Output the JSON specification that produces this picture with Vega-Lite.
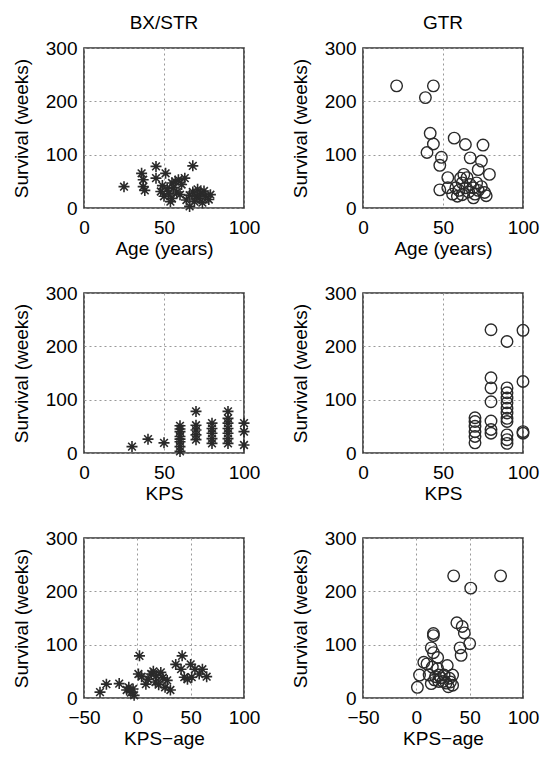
{
  "$schema": "https://vega.github.io/schema/vega-lite/v6.json",
  "padding": {"left": 11, "top": 13, "right": 5, "bottom": 5},
  "background": "white",
  "datasets": {
    "bx_age": [
      {"age": 25, "survival": 40}, {"age": 36, "survival": 65}, {"age": 37, "survival": 53}, {"age": 37, "survival": 40},
      {"age": 38, "survival": 33}, {"age": 45, "survival": 78}, {"age": 45, "survival": 56}, {"age": 48, "survival": 31},
      {"age": 51, "survival": 65}, {"age": 49, "survival": 42}, {"age": 50, "survival": 22}, {"age": 52, "survival": 36},
      {"age": 53, "survival": 27}, {"age": 55, "survival": 47}, {"age": 55, "survival": 18}, {"age": 56, "survival": 38},
      {"age": 57, "survival": 50}, {"age": 58, "survival": 30}, {"age": 59, "survival": 53}, {"age": 60, "survival": 25},
      {"age": 61, "survival": 44}, {"age": 63, "survival": 56}, {"age": 68, "survival": 79}, {"age": 64, "survival": 15},
      {"age": 66, "survival": 3}, {"age": 66, "survival": 24}, {"age": 68, "survival": 30}, {"age": 69, "survival": 12},
      {"age": 70, "survival": 22}, {"age": 71, "survival": 35}, {"age": 72, "survival": 18}, {"age": 73, "survival": 28},
      {"age": 74, "survival": 10}, {"age": 75, "survival": 32}, {"age": 76, "survival": 22}, {"age": 78, "survival": 16},
      {"age": 79, "survival": 25}, {"age": 54, "survival": 12}
    ],
    "gtr_age": [
      {"age": 21, "survival": 229}, {"age": 44, "survival": 229}, {"age": 39, "survival": 207}, {"age": 42, "survival": 140},
      {"age": 44, "survival": 120}, {"age": 40, "survival": 104}, {"age": 49, "survival": 95}, {"age": 48, "survival": 80},
      {"age": 57, "survival": 131}, {"age": 64, "survival": 119}, {"age": 67, "survival": 94}, {"age": 75, "survival": 118},
      {"age": 74, "survival": 88}, {"age": 72, "survival": 72}, {"age": 79, "survival": 63}, {"age": 53, "survival": 57},
      {"age": 63, "survival": 63}, {"age": 65, "survival": 57}, {"age": 48, "survival": 34}, {"age": 53, "survival": 38},
      {"age": 58, "survival": 38}, {"age": 59, "survival": 22}, {"age": 62, "survival": 25}, {"age": 64, "survival": 38},
      {"age": 69, "survival": 38}, {"age": 69, "survival": 19}, {"age": 71, "survival": 47}, {"age": 76, "survival": 29},
      {"age": 77, "survival": 23}, {"age": 62, "survival": 47}, {"age": 60, "survival": 33}, {"age": 66, "survival": 30},
      {"age": 67, "survival": 44}, {"age": 72, "survival": 33}, {"age": 74, "survival": 40}, {"age": 56, "survival": 26},
      {"age": 61, "survival": 56}, {"age": 70, "survival": 26}
    ],
    "bx_kps": [
      {"kps": 30, "survival": 12}, {"kps": 40, "survival": 26}, {"kps": 50, "survival": 19},
      {"kps": 60, "survival": 51}, {"kps": 60, "survival": 45}, {"kps": 60, "survival": 40}, {"kps": 60, "survival": 31},
      {"kps": 60, "survival": 26}, {"kps": 60, "survival": 21}, {"kps": 60, "survival": 12}, {"kps": 60, "survival": 3},
      {"kps": 70, "survival": 78}, {"kps": 70, "survival": 52}, {"kps": 70, "survival": 43}, {"kps": 70, "survival": 34},
      {"kps": 70, "survival": 25},
      {"kps": 80, "survival": 56}, {"kps": 80, "survival": 46}, {"kps": 80, "survival": 37}, {"kps": 80, "survival": 27},
      {"kps": 80, "survival": 18},
      {"kps": 90, "survival": 78}, {"kps": 90, "survival": 65}, {"kps": 90, "survival": 56}, {"kps": 90, "survival": 46},
      {"kps": 90, "survival": 37}, {"kps": 90, "survival": 27}, {"kps": 90, "survival": 18},
      {"kps": 100, "survival": 56}, {"kps": 100, "survival": 40}, {"kps": 100, "survival": 15}
    ],
    "gtr_kps": [
      {"kps": 70, "survival": 66}, {"kps": 70, "survival": 59}, {"kps": 70, "survival": 50}, {"kps": 70, "survival": 40},
      {"kps": 70, "survival": 31}, {"kps": 70, "survival": 19},
      {"kps": 80, "survival": 231}, {"kps": 80, "survival": 141}, {"kps": 80, "survival": 122}, {"kps": 80, "survival": 96},
      {"kps": 80, "survival": 60}, {"kps": 80, "survival": 44}, {"kps": 80, "survival": 37},
      {"kps": 90, "survival": 209}, {"kps": 90, "survival": 122}, {"kps": 90, "survival": 113}, {"kps": 90, "survival": 103},
      {"kps": 90, "survival": 94}, {"kps": 90, "survival": 84}, {"kps": 90, "survival": 75}, {"kps": 90, "survival": 65},
      {"kps": 90, "survival": 59}, {"kps": 90, "survival": 34}, {"kps": 90, "survival": 25}, {"kps": 90, "survival": 18},
      {"kps": 100, "survival": 230}, {"kps": 100, "survival": 134}, {"kps": 100, "survival": 40}, {"kps": 100, "survival": 37}
    ],
    "bx_kpsage": [
      {"kps_age": -35, "survival": 11}, {"kps_age": -29, "survival": 26}, {"kps_age": -17, "survival": 27}, {"kps_age": -10, "survival": 15},
      {"kps_age": -8, "survival": 20}, {"kps_age": -6, "survival": 10}, {"kps_age": -4, "survival": 17}, {"kps_age": -3, "survival": 5},
      {"kps_age": 2, "survival": 79}, {"kps_age": 1, "survival": 45}, {"kps_age": 4, "survival": 40}, {"kps_age": 8, "survival": 26},
      {"kps_age": 10, "survival": 35}, {"kps_age": 13, "survival": 45}, {"kps_age": 15, "survival": 50}, {"kps_age": 17, "survival": 30},
      {"kps_age": 18, "survival": 42}, {"kps_age": 20, "survival": 25}, {"kps_age": 22, "survival": 48}, {"kps_age": 24, "survival": 38},
      {"kps_age": 26, "survival": 20}, {"kps_age": 28, "survival": 33}, {"kps_age": 31, "survival": 15}, {"kps_age": 36, "survival": 63},
      {"kps_age": 42, "survival": 79}, {"kps_age": 41, "survival": 54}, {"kps_age": 44, "survival": 39}, {"kps_age": 47, "survival": 35},
      {"kps_age": 50, "survival": 63}, {"kps_age": 51, "survival": 39}, {"kps_age": 54, "survival": 54}, {"kps_age": 58, "survival": 45},
      {"kps_age": 61, "survival": 54}, {"kps_age": 65, "survival": 40}
    ],
    "gtr_kpsage": [
      {"kps_age": 35, "survival": 229}, {"kps_age": 51, "survival": 206}, {"kps_age": 79, "survival": 229}, {"kps_age": 38, "survival": 141},
      {"kps_age": 43, "survival": 134}, {"kps_age": 45, "survival": 122}, {"kps_age": 50, "survival": 102}, {"kps_age": 41, "survival": 94},
      {"kps_age": 42, "survival": 80}, {"kps_age": 16, "survival": 121}, {"kps_age": 16, "survival": 117}, {"kps_age": 14, "survival": 94},
      {"kps_age": 16, "survival": 85}, {"kps_age": 20, "survival": 76}, {"kps_age": 7, "survival": 67}, {"kps_age": 10, "survival": 64},
      {"kps_age": 15, "survival": 58}, {"kps_age": 20, "survival": 55}, {"kps_age": 29, "survival": 61}, {"kps_age": 3, "survival": 43},
      {"kps_age": 1, "survival": 20}, {"kps_age": 12, "survival": 43}, {"kps_age": 17, "survival": 34}, {"kps_age": 21, "survival": 43},
      {"kps_age": 26, "survival": 43}, {"kps_age": 31, "survival": 37}, {"kps_age": 34, "survival": 43}, {"kps_age": 14, "survival": 27},
      {"kps_age": 21, "survival": 31}, {"kps_age": 30, "survival": 21}, {"kps_age": 34, "survival": 24}, {"kps_age": 25, "survival": 31},
      {"kps_age": 18, "survival": 40}, {"kps_age": 28, "survival": 28}, {"kps_age": 32, "survival": 30}, {"kps_age": 23, "survival": 38}
    ]
  },
  "columns": 2,
  "bounds": "flush",
  "spacing": {"row": 85, "column": 119},
  "concat": [
    {
      "title": "BX/STR",
      "data": {"name": "bx_age"},
      "width": 160, "height": 160,
      "mark": {"type": "point", "shape": "M-1,0L1,0M0,-1L0,1M-0.7,-0.7L0.7,0.7M-0.7,0.7L0.7,-0.7", "filled": false, "size": 121, "strokeWidth": 1.6, "color": "#2a2a2a", "opacity": 1},
      "encoding": {
        "x": {"field": "age", "type": "quantitative", "scale": {"domain": [0, 100], "nice": false}, "axis": {"title": "Age (years)", "values": [0, 50, 100]}},
        "y": {"field": "survival", "type": "quantitative", "scale": {"domain": [0, 300], "nice": false}, "axis": {"title": "Survival (weeks)", "values": [0, 100, 200, 300]}}
      }
    },
    {
      "title": "GTR",
      "data": {"name": "gtr_age"},
      "width": 160, "height": 160,
      "mark": {"type": "point", "shape": "circle", "filled": false, "size": 133, "strokeWidth": 1.4, "color": "#2a2a2a", "opacity": 1},
      "encoding": {
        "x": {"field": "age", "type": "quantitative", "scale": {"domain": [0, 100], "nice": false}, "axis": {"title": "Age (years)", "values": [0, 50, 100]}},
        "y": {"field": "survival", "type": "quantitative", "scale": {"domain": [0, 300], "nice": false}, "axis": {"title": "Survival (weeks)", "values": [0, 100, 200, 300]}}
      }
    },
    {
      "data": {"name": "bx_kps"},
      "width": 160, "height": 160,
      "mark": {"type": "point", "shape": "M-1,0L1,0M0,-1L0,1M-0.7,-0.7L0.7,0.7M-0.7,0.7L0.7,-0.7", "filled": false, "size": 121, "strokeWidth": 1.6, "color": "#2a2a2a", "opacity": 1},
      "encoding": {
        "x": {"field": "kps", "type": "quantitative", "scale": {"domain": [0, 100], "nice": false}, "axis": {"title": "KPS", "values": [0, 50, 100]}},
        "y": {"field": "survival", "type": "quantitative", "scale": {"domain": [0, 300], "nice": false}, "axis": {"title": "Survival (weeks)", "values": [0, 100, 200, 300]}}
      }
    },
    {
      "data": {"name": "gtr_kps"},
      "width": 160, "height": 160,
      "mark": {"type": "point", "shape": "circle", "filled": false, "size": 133, "strokeWidth": 1.4, "color": "#2a2a2a", "opacity": 1},
      "encoding": {
        "x": {"field": "kps", "type": "quantitative", "scale": {"domain": [0, 100], "nice": false}, "axis": {"title": "KPS", "values": [0, 50, 100]}},
        "y": {"field": "survival", "type": "quantitative", "scale": {"domain": [0, 300], "nice": false}, "axis": {"title": "Survival (weeks)", "values": [0, 100, 200, 300]}}
      }
    },
    {
      "data": {"name": "bx_kpsage"},
      "width": 160, "height": 160,
      "mark": {"type": "point", "shape": "M-1,0L1,0M0,-1L0,1M-0.7,-0.7L0.7,0.7M-0.7,0.7L0.7,-0.7", "filled": false, "size": 121, "strokeWidth": 1.6, "color": "#2a2a2a", "opacity": 1},
      "encoding": {
        "x": {"field": "kps_age", "type": "quantitative", "scale": {"domain": [-50, 100], "nice": false}, "axis": {"title": "KPS−age", "values": [-50, 0, 50, 100]}},
        "y": {"field": "survival", "type": "quantitative", "scale": {"domain": [0, 300], "nice": false}, "axis": {"title": "Survival (weeks)", "values": [0, 100, 200, 300]}}
      }
    },
    {
      "data": {"name": "gtr_kpsage"},
      "width": 160, "height": 160,
      "mark": {"type": "point", "shape": "circle", "filled": false, "size": 133, "strokeWidth": 1.4, "color": "#2a2a2a", "opacity": 1},
      "encoding": {
        "x": {"field": "kps_age", "type": "quantitative", "scale": {"domain": [-50, 100], "nice": false}, "axis": {"title": "KPS−age", "values": [-50, 0, 50, 100]}},
        "y": {"field": "survival", "type": "quantitative", "scale": {"domain": [0, 300], "nice": false}, "axis": {"title": "Survival (weeks)", "values": [0, 100, 200, 300]}}
      }
    }
  ],
  "config": {
    "font": "Liberation Sans",
    "view": {"stroke": "#333", "strokeWidth": 1.6},
    "axis": {
      "labelFontSize": 19, "titleFontSize": 19, "titleFontWeight": "normal",
      "labelColor": "#000", "titleColor": "#000",
      "ticks": false, "domain": false,
      "grid": true, "gridDash": [2, 3], "gridColor": "#999", "gridOpacity": 1, "gridWidth": 1,
      "labelFlush": false, "labelOverlap": false
    },
    "axisX": {"labelPadding": 10, "titlePadding": 2},
    "axisY": {"labelPadding": 7, "titlePadding": 14},
    "title": {"fontSize": 19, "fontWeight": "normal", "offset": 6, "color": "#000"}
  }
}
